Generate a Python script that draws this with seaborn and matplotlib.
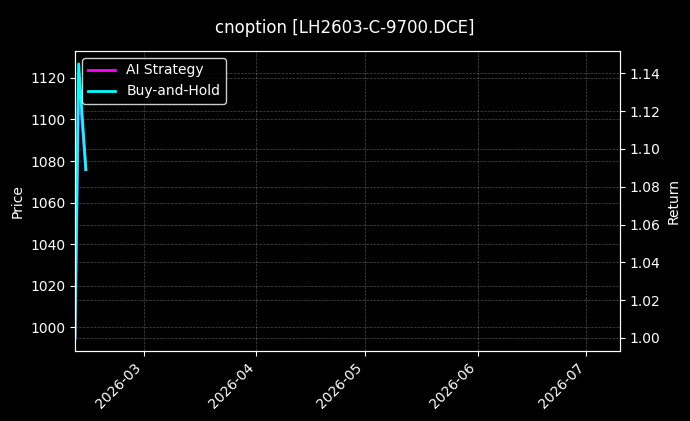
import pandas as pd
import numpy as np
import matplotlib
matplotlib.use("Agg")
import matplotlib.pyplot as plt
import matplotlib.dates as mdates
import seaborn as sns

# values
dates = ["2026-02-10", "2026-02-11", "2026-02-13"]
ai_strategy = [1.000, 1.135, 1.089]
buy_and_hold = [1.000, 1.145, 1.089]

price_ylim = (988.5, 1133.0)
return_ylim = (0.9931, 1.1518)
x_start, x_end = "2026-02-10 00:00", "2026-07-10 06:00"

df = pd.DataFrame({
    "date": pd.to_datetime(dates),
    "AI Strategy": ai_strategy,
    "Buy-and-Hold": buy_and_hold,
})

plt.style.use("dark_background")
fig = plt.figure(figsize=(6.9, 4.21), dpi=100)
ax = fig.add_axes([0.1087, 0.1663, 0.7899, 0.7126])
ax2 = ax.twinx()

sns.lineplot(data=df, x="date", y="AI Strategy", ax=ax2, color="#ff00ff",
             linewidth=2, label="AI Strategy")
sns.lineplot(data=df, x="date", y="Buy-and-Hold", ax=ax2, color="#00ffff",
             linewidth=2, label="Buy-and-Hold")

ax.set_ylim(*price_ylim)
ax2.set_ylim(*return_ylim)
ax.set_xlim(pd.Timestamp(x_start), pd.Timestamp(x_end))
ax.set_yticks([1000, 1020, 1040, 1060, 1080, 1100, 1120])
ax2.set_yticks(np.arange(1.00, 1.15, 0.02))

ax.set_ylabel("Price")
ax2.set_ylabel("Return")
ax.set_xlabel("")
ax2.set_xlabel("")

ax.xaxis.set_major_locator(mdates.MonthLocator())
ax.xaxis.set_major_formatter(mdates.DateFormatter("%Y-%m"))
for lbl in ax.get_xticklabels():
    lbl.set_rotation(45)
    lbl.set_ha("right")

ax.grid(True, linestyle="--", linewidth=0.5, alpha=0.3)
ax2.grid(True, linestyle="--", linewidth=0.5, alpha=0.3)

leg = ax2.legend(loc="upper left", facecolor="black", edgecolor="white", framealpha=0.8)

fig.suptitle("cnoption [LH2603-C-9700.DCE]", fontsize=12, y=0.955)

fig.savefig("out.png", dpi=100)
